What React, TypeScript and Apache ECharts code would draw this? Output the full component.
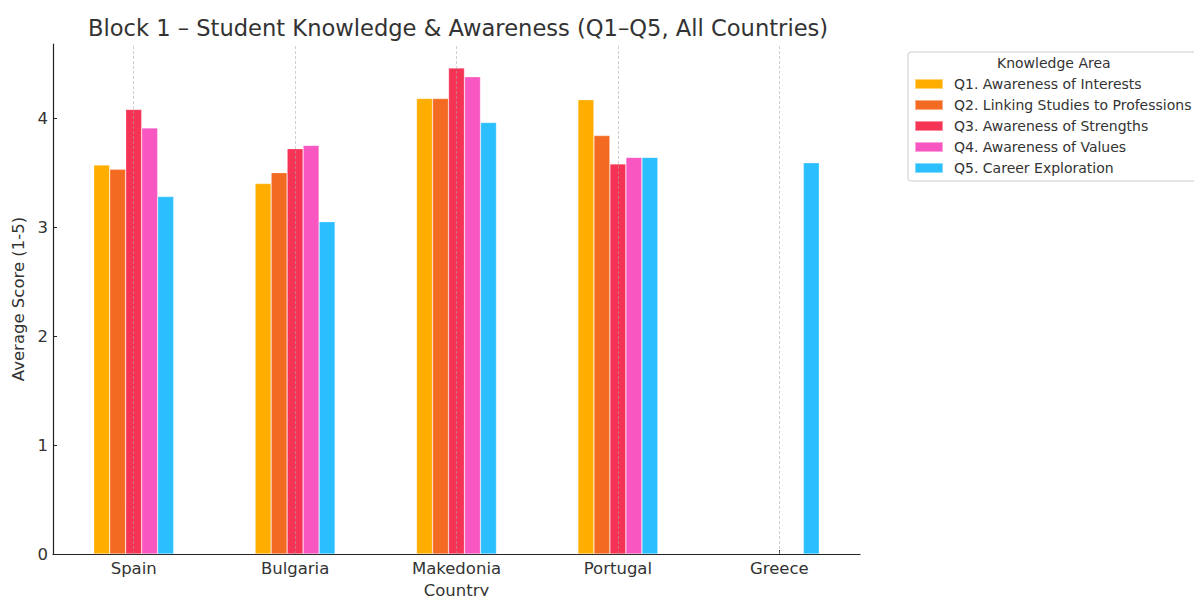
import React, { useEffect, useRef } from "react";
import * as echarts from "echarts";

const countries = ["Spain", "Bulgaria", "Makedonia", "Portugal", "Greece"];
const q1 = [3.57, 3.40, 4.18, 4.17, null];
const q2 = [3.53, 3.50, 4.18, 3.84, null];
const q3 = [4.08, 3.72, 4.46, 3.58, null];
const q4 = [3.91, 3.75, 4.38, 3.64, null];
const q5 = [3.28, 3.05, 3.96, 3.64, 3.59];
const seriesNames = [
  "Q1. Awareness of Interests",
  "Q2. Linking Studies to Professions",
  "Q3. Awareness of Strengths",
  "Q4. Awareness of Values",
  "Q5. Career Exploration",
];
const seriesValues = [q1, q2, q3, q4, q5];
const colors = ["#FFAE00", "#F36B22", "#F43355", "#F857C1", "#2BBFFF"];
const yTicks = [0, 1, 2, 3, 4];

const FONT = "DejaVu Sans";

export default function App() {
  const ref = useRef<HTMLDivElement>(null);
  useEffect(() => {
    const chart = echarts.init(ref.current!, null, { renderer: "svg" });
    const series: any[] = seriesValues.map((vals, i) => ({
      name: seriesNames[i],
      type: "bar",
      data: vals,
      barWidth: 16,
      barGap: "0%",
      itemStyle: { color: colors[i], borderColor: "rgba(255,255,255,0.45)", borderWidth: 0.6 },
    }));
    series.push({
      name: "grid",
      type: "line",
      data: [],
      z: 5,
      markLine: {
        silent: true,
        symbol: "none",
        label: { show: false },
        lineStyle: { color: "rgba(170,170,170,0.55)", type: [3, 2], width: 1 },
        data: countries.map((c) => ({ xAxis: c })),
      },
    });
    chart.setOption({
      animation: false,
      color: colors,
      textStyle: { fontFamily: FONT },
      title: {
        text: "Block 1 – Student Knowledge & Awareness (Q1–Q5, All Countries)",
        left: 453,
        top: 11,
        textAlign: "center",
        textStyle: { fontFamily: FONT, fontSize: 22.6, fontWeight: "normal", color: "#333" },
      },
      grid: { left: 53, right: 334, top: 44, bottom: 42, containLabel: false, outerBoundsMode: "none" },
      legend: {
        left: 908,
        top: 52,
        orient: "vertical",
        padding: [25, 10, 6, 6],
        itemWidth: 28,
        itemHeight: 10,
        itemGap: 7,
        borderColor: "#cccccc",
        borderWidth: 1,
        borderRadius: 3,
        icon: "rect",
        textStyle: { fontFamily: FONT, fontSize: 14, color: "#333", padding: [0, 0, 0, 6] },
        data: seriesNames,
      },
      graphic: [
        {
          type: "text",
          left: 997,
          top: 56,
          style: { text: "Knowledge Area", font: `14px ${FONT}`, fill: "#333" },
        },
      ],
      xAxis: {
        type: "category",
        data: countries,
        name: "Country",
        nameLocation: "middle",
        nameGap: 25,
        nameTextStyle: { fontFamily: FONT, fontSize: 16.5, color: "#333" },
        axisLine: { lineStyle: { color: "#222", width: 1.2 } },
        axisTick: { show: true, alignWithLabel: true, inside: true, length: 4, lineStyle: { color: "#222" } },
        axisLabel: { fontFamily: FONT, fontSize: 16.5, color: "#333", margin: 6 },
        splitLine: { show: false },
      },
      yAxis: {
        type: "value",
        min: 0,
        max: 4.68,
        interval: 1,
        name: "Average Score (1-5)",
        nameLocation: "middle",
        nameGap: 20,
        nameTextStyle: { fontFamily: FONT, fontSize: 16.5, color: "#333" },
        axisLine: { show: true, lineStyle: { color: "#222", width: 1.2 } },
        axisTick: { show: true, inside: true, length: 4, customValues: yTicks, lineStyle: { color: "#222" } },
        axisLabel: { fontFamily: FONT, fontSize: 16.5, color: "#333", margin: 5, customValues: yTicks },
        splitLine: { show: false },
      },
      series,
    });
    return () => chart.dispose();
  }, []);
  return <div ref={ref} style={{ width: 1194, height: 596, position: "absolute", left: 0, top: 0 }} />;
}
